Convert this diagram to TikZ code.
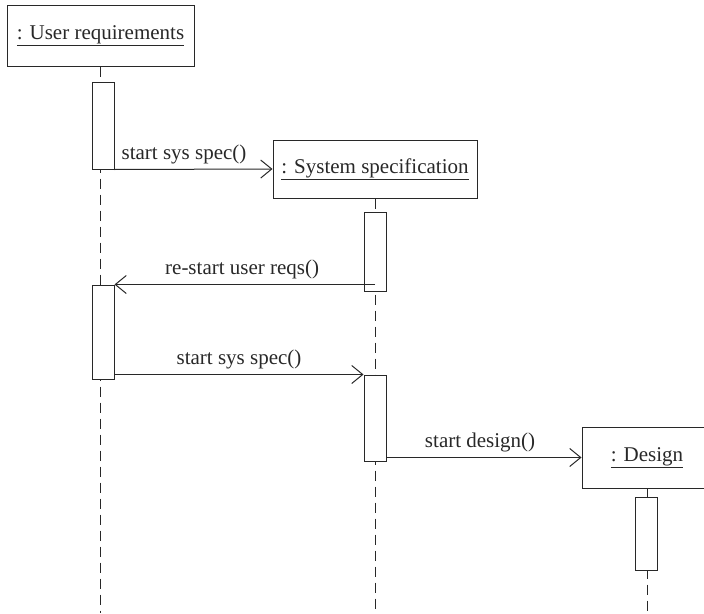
\documentclass[tikz,border=0pt]{standalone}
\usepackage{fontspec}
\setmainfont{Liberation Serif}
\usetikzlibrary{arrows.meta}
\definecolor{ink}{RGB}{40,40,40}

\begin{document}
\begin{tikzpicture}[x=1pt,y=-1pt,font=\fontsize{21}{25}\selectfont,
  color=ink,line width=1pt,
  obj/.style={draw,inner sep=0pt},
  act/.style={draw,fill=white,inner sep=0pt,minimum width=22pt},
  life/.style={dash pattern=on 10pt off 6pt},
  msg/.style={-{Straight Barb[length=11pt,width=18pt]}},
  lbl/.style={above=5pt,inner sep=0pt}]

\clip (0,0) rectangle (704,613);
\coordinate (bottom) at (0,613);

% objects
\node[obj,minimum width=187pt,minimum height=61pt] (user) at (100.5,35.5) {\underline{: User requirements}};
\node[obj,minimum width=204pt,minimum height=58pt] (spec) at (375,169) {\underline{: System specification}};
\node[obj,minimum width=130pt,minimum height=61pt] (design) at (647,457.5) {\underline{: Design}};

% lifelines
\draw[life] (user.south) -- (user.south |- bottom);
\draw[life] (spec.south) -- (spec.south |- bottom);
\draw[life] (design.south) -- (design.south |- bottom);

% activations
\node[act,minimum height=87pt] (userA) at (103,125.5) {};
\node[act,minimum height=94pt] (userB) at (103,332) {};
\node[act,minimum height=79pt] (specA) at (375,251.5) {};
\node[act,minimum height=86pt] (specB) at (375,418) {};
\node[act,minimum height=73pt] (designA) at (646,533.5) {};

% messages
\draw[msg] (userA.south east) -- (spec.west) node[lbl,pos=0.44] (m1) {start sys spec()};
\draw[msg] (specA |- userB.north) -- (userB.north east) node[lbl,pos=0.51] (m2) {re-start user reqs()};
\draw[msg] (userB.east |- specB.north) -- (specB.north west) node[lbl,pos=0.5] (m3) {start sys spec()};
\draw[msg] (specB.east |- design.west) -- (design.west) node[lbl,pos=0.48] (m4) {start design()};
\end{tikzpicture}
\end{document}
